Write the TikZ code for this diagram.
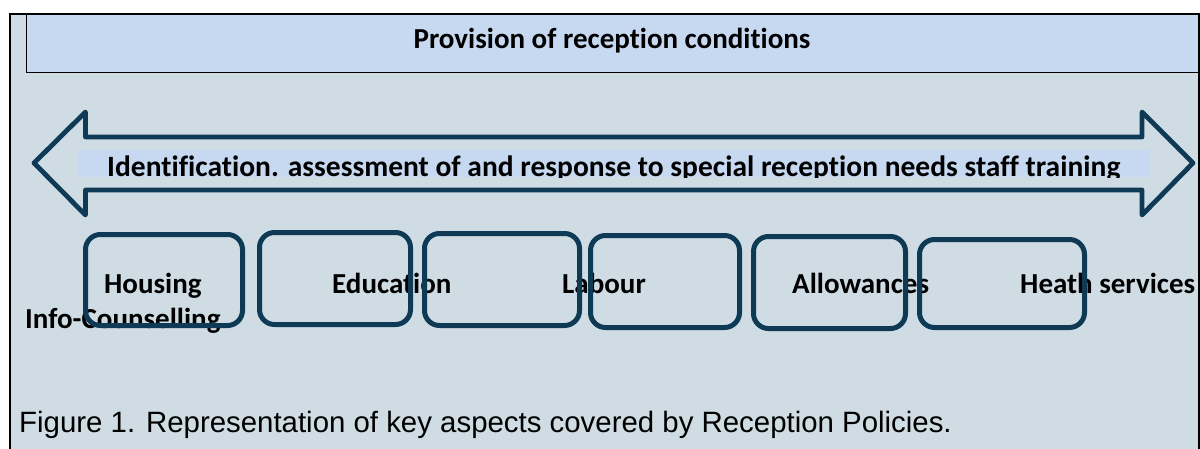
\documentclass[tikz,border=0pt]{standalone}
\usepackage{fontspec}
\setmainfont{Carlito}[Ligatures={NoCommon,NoRare,NoContextual}]
\newfontfamily\arialfont{Liberation Sans}
\definecolor{bg}{RGB}{207,220,228}
\definecolor{lightfill}{RGB}{198,217,241}
\definecolor{navy}{RGB}{14,58,86}
\begin{document}
\begin{tikzpicture}[x=1pt,y=-1pt,
  lbl/.style={font=\fontsize{29}{34}\selectfont\bfseries, inner sep=0pt, anchor=base west},
  aspect/.style={draw=navy, line width=5pt, rounded corners=15pt, inner sep=0pt},
  arrowline/.style={draw=navy, line width=4.8pt, line join=round},
]
\useasboundingbox (0,0) rectangle (1200,448);
\fill[white] (0,0) rectangle (1200,448);
% outer frame
\draw[black, line width=2.5pt, fill=bg] (10,14) rectangle (1199.5,470);
% title
\node[draw=black, line width=1.4pt, fill=lightfill, minimum width=1172pt, minimum height=58pt,
      anchor=north west, inner sep=0pt] (title) at (26,14) {};
\node[lbl, anchor=base] (titletext) at (612,48) {Provision of reception conditions};
% double arrow
\draw[arrowline] (34,163) -- (85.5,112) -- (85.5,137) -- (1142,137) -- (1142,112)
      -- (1193,163) -- (1142,215) -- (1142,190) -- (85.5,190) -- (85.5,215) -- cycle;
% band
\fill[lightfill] (77,150) rectangle (1150,177);
\begin{scope}
  \clip (77,150) rectangle (1150,177);
  \node[lbl, font=\fontsize{29.5}{34}\selectfont\bfseries] (bandtext) at (107,176)
    {Identification. assessment of and response to special reception needs staff training};
\end{scope}
% labels
\node[lbl] (housing) at (104,293) {Housing};
\node[lbl] (education) at (332,293) {Education};
\node[lbl] (labour) at (562,293) {Labour};
\node[lbl] (allowances) at (792,293) {Allowances};
\node[lbl] (health) at (1020,293) {Heath services};
\node[lbl] (info) at (25,328) {Info-Counselling};
% boxes
\node[aspect, minimum width=157pt, minimum height=91pt] (box1) at (164,280) {};
\node[aspect, minimum width=151pt, minimum height=92pt] (box2) at (335,278.5) {};
\node[aspect, minimum width=155pt, minimum height=92pt] (box3) at (502,279.5) {};
\node[aspect, minimum width=149pt, minimum height=92pt] (box4) at (665,281.5) {};
\node[aspect, minimum width=152pt, minimum height=92pt] (box5) at (829.5,282.5) {};
\node[aspect, minimum width=165pt, minimum height=88pt] (box6) at (1002,283.5) {};
% caption
\node[font=\arialfont\fontsize{29.4}{34}\selectfont, inner sep=0pt, anchor=base west] (caption) at (19,432)
  {Figure 1. Representation of key aspects covered by Reception Policies.};
\end{tikzpicture}
\end{document}
